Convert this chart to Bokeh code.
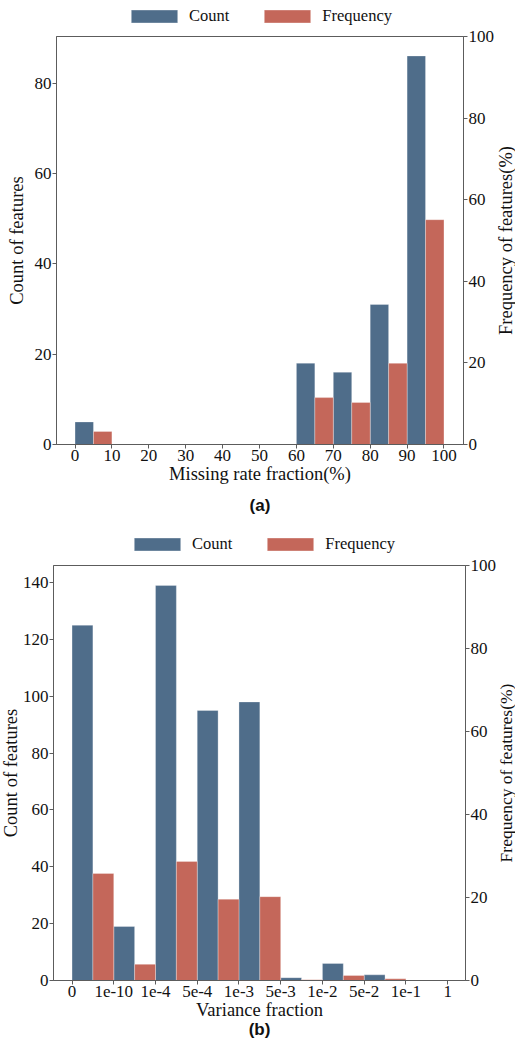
import math
from bokeh.plotting import figure
from bokeh.models import (ColumnDataSource, Range1d, LinearAxis, FixedTicker,
                          SingleIntervalTicker, Legend, LegendItem, Title)
from bokeh.core.properties import value
from bokeh.layouts import column, row
from bokeh.embed import file_html
from bokeh.resources import INLINE

# ---------------- data ----------------
missing_edges = [0, 10, 20, 30, 40, 50, 60, 70, 80, 90]
missing_count = [5, 0, 0, 0, 0, 0, 18, 16, 31, 86]
missing_freq = [3.2, 0, 0, 0, 0, 0, 11.5, 10.3, 19.9, 55.1]
missing_ticks = [0, 10, 20, 30, 40, 50, 60, 70, 80, 90, 100]

variance_labels = ["0", "1e-10", "1e-4", "5e-4", "1e-3", "5e-3", "1e-2", "5e-2", "1e-1", "1"]
variance_count = [125, 19, 139, 95, 98, 1, 6, 2, 0]
variance_freq = [25.8, 3.9, 28.7, 19.6, 20.2, 0.2, 1.2, 0.4, 0.0]

series_names = ["Count", "Frequency"]
y_left_title = "Count of features"
y_right_title = "Frequency of features(%)"

# ---------------- style ----------------
BLUE = "#4f6d8a"
RED = "#c4675a"
AXC = "#5c5c5c"
TXT = "#111111"
SERIF = "Liberation Serif"
SANS = "Liberation Sans"
TICK_FS = "17px"
LABEL_FS = "18.5px"
LEGEND_FS = "16.5px"
PAGE_W = 515


def blank_fig(width, height, b_left, b_right, b_top, b_bottom, x_range, y_range):
    f = figure(width=width, height=height, x_range=x_range, y_range=y_range,
               min_border_left=b_left, min_border_right=b_right,
               min_border_top=b_top, min_border_bottom=b_bottom,
               x_axis_location=None, y_axis_location=None,
               output_backend="svg", toolbar_location=None, tools="")
    f.outline_line_color = None
    f.xgrid.visible = False
    f.ygrid.visible = False
    f.border_fill_color = "white"
    f.background_fill_color = "white"
    return f


def bar_source(left_edges, bin_w, counts, freqs):
    half = bin_w / 2.0
    return ColumnDataSource(dict(
        cl=[e for e in left_edges],
        cr=[e + half for e in left_edges],
        fr=[e + bin_w for e in left_edges],
        count=counts,
        freq=freqs,
        zero=[0] * len(left_edges),
    ))


def legend_figure(height, loc, src):
    # legend-only strip; the bars lie outside this strip's y-range so only the legend shows
    f = blank_fig(PAGE_W, height, 52, 0, 0, 0, Range1d(0, 1), Range1d(1000, 1001))
    r1 = f.quad(left="cl", right="cr", bottom="zero", top="count", source=src,
                fill_color=BLUE, line_color="white", line_width=0.5, line_alpha=0.6)
    r2 = f.quad(left="cr", right="fr", bottom="zero", top="freq", source=src,
                fill_color=RED, line_color="white", line_width=0.5, line_alpha=0.6)
    legend = Legend(items=[LegendItem(label=series_names[0], renderers=[r1]),
                           LegendItem(label=series_names[1], renderers=[r2])],
                    orientation="horizontal", location=loc,
                    glyph_width=58, glyph_height=16, label_height=16,
                    label_standoff=6, spacing=29, padding=0, margin=0,
                    border_line_color=None, background_fill_alpha=0,
                    label_text_font=SERIF, label_text_font_size=LEGEND_FS,
                    label_text_color=TXT)
    f.add_layout(legend, "center")
    return f


def right_title_figure(width, height, b_top, b_bottom, xpos, font_size):
    f = blank_fig(width, height, 0, 0, b_top, b_bottom, Range1d(0, 1), Range1d(0, 1))
    f.text(x=[xpos], y=[0.5], text=[y_right_title], angle=math.pi / 2,
           text_align="center", text_baseline="middle",
           text_font=value(SERIF), text_font_size=value(font_size), text_color=TXT)
    return f


def style_axis(ax):
    ax.axis_line_color = AXC
    ax.major_tick_line_color = AXC
    ax.minor_tick_line_color = None
    ax.major_tick_in = 0
    ax.major_tick_out = 4
    ax.major_label_text_font = SERIF
    ax.major_label_text_font_size = TICK_FS
    ax.major_label_text_color = TXT
    ax.major_label_standoff = 1
    ax.axis_label_text_font = SERIF
    ax.axis_label_text_font_size = LABEL_FS
    ax.axis_label_text_font_style = "normal"
    ax.axis_label_text_color = TXT
    ax.axis_label_standoff = 0


def make_panel(src, x_range, count_end, ticks, tick_overrides, xlabel, caption,
               width, height, b_top, b_bottom, b_right, caption_standoff,
               left_title_standoff):
    p = figure(width=width, height=height,
               x_range=Range1d(*x_range), y_range=Range1d(0, count_end),
               min_border_left=52, min_border_right=b_right,
               min_border_top=b_top, min_border_bottom=b_bottom,
               output_backend="svg", toolbar_location=None, tools="")
    p.extra_y_ranges = {"freq": Range1d(0, 100)}
    p.xgrid.visible = False
    p.ygrid.visible = False
    p.outline_line_color = AXC
    p.outline_line_width = 1
    p.background_fill_color = "white"
    p.border_fill_color = "white"

    p.quad(left="cl", right="cr", bottom="zero", top="count", source=src,
           fill_color=BLUE, line_color="white", line_width=0.5, line_alpha=0.6)
    p.quad(left="cr", right="fr", bottom="zero", top="freq", source=src,
           y_range_name="freq",
           fill_color=RED, line_color="white", line_width=0.5, line_alpha=0.6)

    xa = p.xaxis[0]
    style_axis(xa)
    xa.ticker = FixedTicker(ticks=ticks)
    if tick_overrides:
        xa.major_label_overrides = tick_overrides
    xa.axis_label = xlabel

    ya = p.yaxis[0]
    style_axis(ya)
    ya.ticker = SingleIntervalTicker(interval=20)

    yr = LinearAxis(y_range_name="freq", ticker=SingleIntervalTicker(interval=20))
    style_axis(yr)
    p.add_layout(yr, "right")

    lt = Title(text=y_left_title, align="center", text_font=SERIF,
               text_font_style="normal", text_font_size=LABEL_FS, text_color=TXT,
               standoff=left_title_standoff)
    p.add_layout(lt, "left")

    cap = Title(text=caption, align="center", text_font=SANS, text_font_style="bold",
                text_font_size="17px", text_color=TXT, standoff=caption_standoff)
    p.add_layout(cap, "below")
    return p


src_a = bar_source(missing_edges, 10, missing_count, missing_freq)
var_idx = list(range(len(variance_count)))
src_b = bar_source(var_idx, 1, variance_count, variance_freq)

la = legend_figure(26, (73, 0.5), src_a)
pa = make_panel(src_a, (-5.02, 105.29), 90.3, missing_ticks, None,
                "Missing rate fraction(%)", "(a)", 497, 499, 10, 81, 34, 15, 9)
ra = right_title_figure(18, 499, 10, 81, 0.47, LABEL_FS)

lb = legend_figure(30, (76, 1), src_b)
pb = make_panel(src_b, (-0.444, 9.428), 146, list(range(len(variance_labels))),
                {i: s for i, s in enumerate(variance_labels)},
                "Variance fraction", "(b)", 499, 501, 10, 76, 31, -10, -3)
rb = right_title_figure(16, 501, 10, 76, 0.40, "17.5px")

layout = column(la, row(pa, ra, spacing=0), lb, row(pb, rb, spacing=0), spacing=0)
open("out.html", "w").write(file_html(layout, INLINE))
